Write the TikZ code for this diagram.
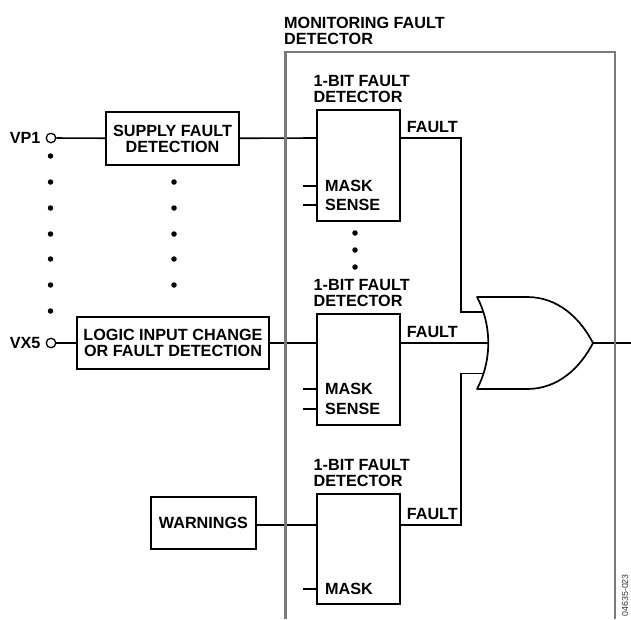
\documentclass[tikz,border=0pt]{standalone}
\usepackage{fontspec}
\setmainfont{Liberation Sans}
\usetikzlibrary{positioning}

\tikzset{
  wire/.style={line width=1.6pt, black},
  block/.style={draw, line width=1.6pt, fill=white, inner sep=0pt, align=center, font=\fontsize{16.2}{16}\selectfont\bfseries},
  label/.style={inner sep=0pt, align=left, font=\fontsize{16.2}{16}\selectfont\bfseries},
  blob/.style={circle, fill=black, inner sep=0pt, minimum size=5.5pt},
  terminal/.style={circle, draw, line width=1.3pt, fill=white, inner sep=0pt, minimum size=9.5pt}
}

\begin{document}
\begin{tikzpicture}[x=1pt, y=-1pt]

\useasboundingbox (0,0) rectangle (631,619);

\node [label, anchor=south west] (monitor-label) at (284,44.5) {MONITORING FAULT\\DETECTOR};

% inputs
\node [terminal] (vp1) at (51,138) {};
\node [terminal] (vx5) at (51,343) {};
\node [label, left=5pt of vp1] (vp1-label) {VP1};
\node [label, left=5pt of vx5] (vx5-label) {VX5};

\node [block, minimum width=133pt, minimum height=53pt] (supply) at (172.5,138.5) {SUPPLY FAULT\\DETECTION};
\node [block, minimum width=192pt, minimum height=52pt] (logic) at (173,343) {LOGIC INPUT CHANGE\\OR FAULT DETECTION};
\node [block, minimum width=105pt, minimum height=52pt] (warnings) at (203.5,523) {WARNINGS};

% fault detectors
\foreach \n/\t/\h in {1/109/111, 2/313/111, 3/493/110}
  \node [draw, line width=1.6pt, minimum width=83pt, minimum height=\h pt, inner sep=0pt, anchor=north west] (det-\n) at (316,\t) {};

\foreach \n in {1,2,3}
  \node [label, anchor=south west] (det-label-\n) at ([xshift=-2.5pt,yshift=6.5pt]det-\n.north west) {1-BIT FAULT\\DETECTOR};

\foreach \n/\y in {1/138, 2/343, 3/525} {
  \coordinate (in-\n) at (det-\n.west |- 0,\y);
  \coordinate (out-\n) at (det-\n.east |- 0,\y);
  \node [label, anchor=south west] (fault-\n) at ([xshift=6pt,yshift=5pt]out-\n) {FAULT};
}

\foreach \m/\y in {a/186, b/389, c/589}
  \node [label, anchor=west] (mask-\m) at (325,\y) {MASK};
\foreach \m/\y in {a/205, b/409}
  \node [label, anchor=west] (sense-\m) at (325,\y) {SENSE};

\foreach \n/\y in {1/186, 2/205, 3/389, 4/409, 5/589}
  \draw [wire] (303,\y) -- (316,\y);

\draw [wire] (vp1) -- (supply);
\draw [wire] (vx5) -- (logic);
\draw [wire] (supply) -- (in-1);
\draw [wire] (logic) -- (in-2);
\draw [wire] (warnings.east |- in-3) -- (in-3);

% or gate
\coordinate (gate-in-a) at (483,312);
\coordinate (gate-in-b) at (489,343);
\coordinate (gate-in-c) at (483,373.5);
\coordinate (gate-out) at (593,343);
\draw [line width=1.7pt, line join=round, fill=white] (477,297) .. controls (492,325) and (492,361) .. (477,389)
  -- (527,389) .. controls (558,389) and (580,368) .. (593,343)
  .. controls (580,318) and (558,297) .. (527,297) -- cycle;

\draw [wire] (out-1) -| (461,312) -- (gate-in-a);
\draw [wire] (out-2) -- (gate-in-b);
\draw [wire] (out-3) -| (461,373.5) -- (gate-in-c);
\draw [wire] (gate-out) -- (631,343);

% outer box, open at the bottom
\draw [line width=2.6pt, black!52] (285.5,619) -- (285.5,52) -- (615,52) -- (615,619);

% dots
\foreach \y in {156,182,208,234,259,285,311}
  \node [blob] at (50.5,\y) {};
\foreach \y in {182,208,234,259,285}
  \node [blob] at (174,\y) {};
\foreach \y in {233,250,267}
  \node [blob] at (355,\y) {};

\node [inner sep=0pt, rotate=90, anchor=east, font=\fontsize{8.8}{9}\selectfont, black!80] (part-no) at (625,574) {04635-023};

\end{tikzpicture}
\end{document}
